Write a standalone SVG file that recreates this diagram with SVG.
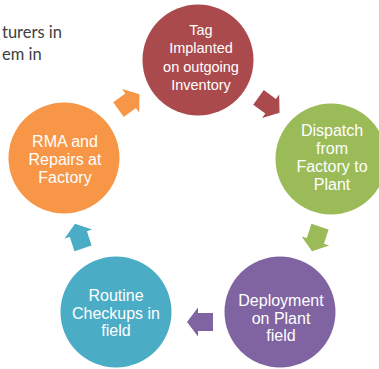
<svg xmlns="http://www.w3.org/2000/svg" xmlns:xlink="http://www.w3.org/1999/xlink" width="379" height="369" viewBox="0 0 379 369">
<style>
.lbl{font-family:"Liberation Sans",Arial,sans-serif;fill:#FFFFFF;text-anchor:middle}
.f16{font-size:16px}
.f14{font-size:14.5px}
.side{font-family:Lato,"Open Sans",sans-serif;font-size:16.5px;fill:#404040}
</style>
<defs>
<polygon id="arr" points="-13,-9 2,-9 2,-14.5 13,0 2,14.5 2,9 -13,9"/>
</defs>
<rect width="379" height="369" fill="#FFFFFF"/>
<g id="side-text">
<text class="side" x="2" y="37.5">turers in</text>
<text class="side" x="2" y="60">em in</text>
</g>
<g id="connectors">
<use xlink:href="#arr" href="#arr" transform="translate(269,105) rotate(36)" fill="#AB4A4C"/>
<use xlink:href="#arr" href="#arr" transform="translate(316,239) rotate(108)" fill="#9BBB59"/>
<use xlink:href="#arr" href="#arr" transform="translate(200,322) rotate(180)" fill="#8064A2"/>
<use xlink:href="#arr" href="#arr" transform="translate(79,236) rotate(252)" fill="#4BACC6"/>
<use xlink:href="#arr" href="#arr" transform="translate(129,102) rotate(-36)" fill="#F79646"/>
</g>
<g id="node-tag">
<circle cx="198" cy="60" r="55.5" fill="#AB4A4C"/>
<text class="lbl f14" x="201" y="35">Tag</text>
<text class="lbl f14" x="201" y="53.3">Implanted</text>
<text class="lbl f14" x="201" y="71.7">on outgoing</text>
<text class="lbl f14" x="201" y="90">Inventory</text>
</g>
<g id="node-dispatch">
<circle cx="331" cy="159" r="55.5" fill="#9BBB59"/>
<text class="lbl f16" x="332" y="136">Dispatch</text>
<text class="lbl f16" x="332" y="154">from</text>
<text class="lbl f16" x="332" y="172">Factory to</text>
<text class="lbl f16" x="332" y="190">Plant</text>
</g>
<g id="node-deployment">
<circle cx="280" cy="312" r="55.5" fill="#8064A2"/>
<text class="lbl f16" x="281" y="306">Deployment</text>
<text class="lbl f16" x="281" y="323.5">on Plant</text>
<text class="lbl f16" x="281" y="341">field</text>
</g>
<g id="node-checkups">
<circle cx="116" cy="312" r="55.5" fill="#4BACC6"/>
<text class="lbl f16" x="116" y="301">Routine</text>
<text class="lbl f16" x="116" y="318.5">Checkups in</text>
<text class="lbl f16" x="116" y="336">field</text>
</g>
<g id="node-rma">
<circle cx="64" cy="158" r="55.5" fill="#F79646"/>
<text class="lbl f16" x="65" y="147">RMA and</text>
<text class="lbl f16" x="65" y="165">Repairs at</text>
<text class="lbl f16" x="65" y="183">Factory</text>
</g>
</svg>
